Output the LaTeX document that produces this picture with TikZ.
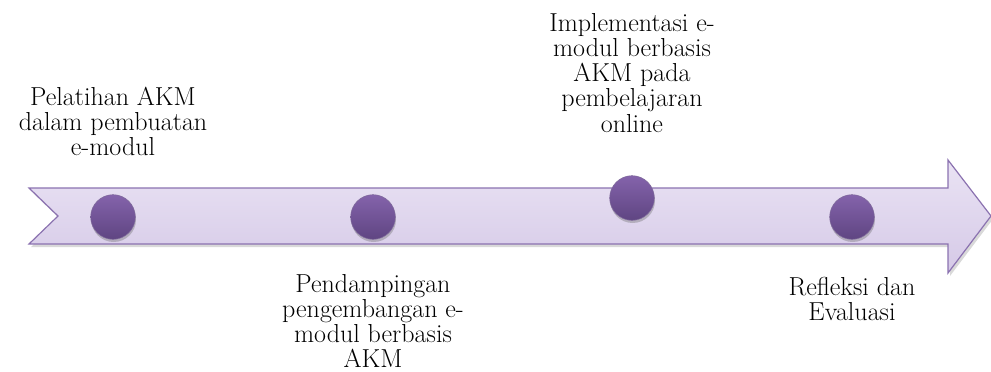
\documentclass[tikz,border=0pt]{standalone}
\usetikzlibrary{shadows}
\definecolor{bandtop}{HTML}{EAE3F4}
\definecolor{bandbot}{HTML}{D5C9E7}
\definecolor{bandline}{HTML}{8B72B0}
\definecolor{dottop}{HTML}{8463AB}
\definecolor{dotbot}{HTML}{5F4582}
\tikzset{
  label text/.style={align=center, font=\fontsize{19.5}{18.8}\selectfont, inner sep=0pt},
  dot/.style={circle, minimum size=33.5pt, inner sep=0pt, top color=dottop, bottom color=dotbot, draw=dotbot!80!white, line width=0.4pt,
    drop shadow={shadow xshift=0.5pt, shadow yshift=-2pt, opacity=0.35, fill=black!60}},
}
\begin{document}
\begin{tikzpicture}[x=0.75pt,y=-0.75pt]
\useasboundingbox (0,0) rectangle (991,371);
% band arrow
\path[fill=black!50, opacity=0.3] (31,191) -- (950,191) -- (950,163) -- (993,219) -- (950,276) -- (950,247) -- (31,247) -- (60,219) -- cycle;
\draw[bandline, line width=0.9pt, top color=bandtop, bottom color=bandbot]
  (29,188) -- (948,188) -- (948,160) -- (991,216) -- (948,273) -- (948,244) -- (29,244) -- (58,216) -- cycle;
% dots
\node[dot] (d1) at (113,217) {};
\node[dot] (d2) at (373,217) {};
\node[dot] (d3) at (632,198) {};
\node[dot] (d4) at (852,217) {};
% labels
\node[label text] (t1) at (113,121) {Pelatihan AKM\\dalam pembuatan\\e-modul};
\node[label text] (t2) at (373,321) {Pendampingan\\pengembangan e-\\modul berbasis\\AKM};
\node[label text] (t3) at (632,73) {Implementasi e-\\modul berbasis\\AKM pada\\pembelajaran\\online};
\node[label text] (t4) at (852,299) {Refleksi dan\\Evaluasi};
\end{tikzpicture}
\end{document}
